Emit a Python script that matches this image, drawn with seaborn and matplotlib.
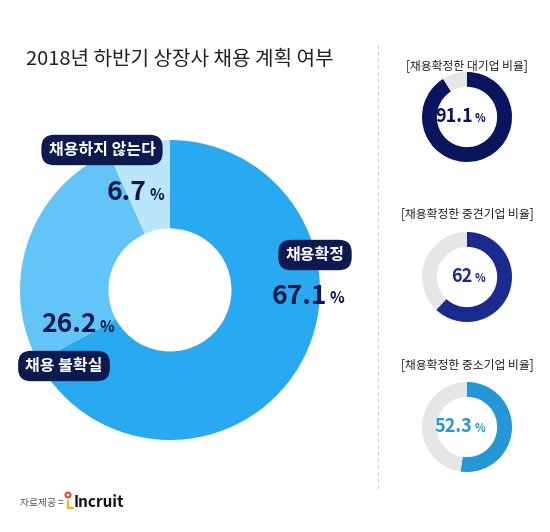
import matplotlib
matplotlib.use("Agg")
import matplotlib.pyplot as plt
import seaborn as sns

sns.set_theme(style="white")
plt.rcParams['font.family'] = ['Noto Sans CJK KR', 'DejaVu Sans']

main_labels = ["채용확정", "채용 불확실", "채용하지 않는다"]
main_values = [67.1, 26.2, 6.7]
main_colors = ["#29a9ef", "#63c4f7", "#bae5fb"]

small_titles = ["[채용확정한 대기업 비율]", "[채용확정한 중견기업 비율]", "[채용확정한 중소기업 비율]"]
small_values = [91.1, 62, 52.3]
small_texts = ["91.1", "62", "52.3"]
small_colors = ["#0a1560", "#1a2a8f", "#2596d6"]

W, H = 550, 532
fig = plt.figure(figsize=(5.5, 5.32), dpi=100)
fig.patch.set_facecolor("white")

def pax(cx, cy, r):
    a = fig.add_axes([(cx - r) / W, (H - cy - r) / H, 2 * r / W, 2 * r / H])
    return a

def fix(a):
    a.set_xlim(-1, 1)
    a.set_ylim(-1, 1)
    a.set_aspect("equal")
    a.axis("off")

fig.text(180 / W, 1 - 60 / H, "2018년 하반기 상장사 채용 계획 여부", ha="center", va="center",
         fontsize=14.5, color="#222222")

ax = pax(170, 290, 150)
ax.pie(main_values, colors=main_colors, startangle=90, counterclock=False,
       wedgeprops=dict(width=0.59, linewidth=0))
fix(ax)

box = dict(boxstyle="round,pad=0.45,rounding_size=0.8", fc="#0d1a4f", ec="none")
def pct(x, y, v):
    fig.text(x / W, 1 - y / H, f"{v}", ha="right", va="center", fontsize=19,
             color="#0d1a4f", fontweight="bold")
    fig.text((x + 3) / W, 1 - (y + 2) / H, "%", ha="left", va="center", fontsize=11,
             color="#0d1a4f", fontweight="bold")

fig.text(315 / W, 1 - 255 / H, main_labels[0], ha="center", va="center", fontsize=11.5,
         color="white", fontweight="bold", bbox=box)
pct(327, 296, main_values[0])
fig.text(64 / W, 1 - 366 / H, main_labels[1], ha="center", va="center", fontsize=11.5,
         color="white", fontweight="bold", bbox=box)
pct(97, 325, main_values[1])
fig.text(102 / W, 1 - 150 / H, main_labels[2], ha="center", va="center", fontsize=11.5,
         color="white", fontweight="bold", bbox=box)
pct(146, 193, main_values[2])

fig.add_artist(plt.Line2D([378 / W, 378 / W], [1 - 45 / H, 1 - 490 / H], color="#cccccc",
                          lw=0.8, ls=(0, (3, 3))))

centers = [117, 277, 427]
title_y = [66, 214, 365]
for i in range(3):
    fig.text(467 / W, 1 - title_y[i] / H, small_titles[i], ha="center", va="center",
             fontsize=8.5, color="#222222")
    a = pax(467, centers[i], 45)
    a.pie([small_values[i], 100 - small_values[i]], colors=[small_colors[i], "#e6e6e6"],
          startangle=90, counterclock=False, wedgeprops=dict(width=0.33, linewidth=0))
    fix(a)
    a.text(0.12, 0, small_texts[i], ha="right", va="center", fontsize=13,
           fontweight="bold", color=small_colors[i])
    a.text(0.16, -0.04, "%", ha="left", va="center", fontsize=8, fontweight="bold",
           color=small_colors[i])

fig.text(20 / W, 1 - 503 / H, "자료제공 =", ha="left", va="center", fontsize=7, color="#555555")
fig.text(74 / W, 1 - 502 / H, "Incruit", ha="left", va="center", fontsize=11,
         fontweight="bold", color="#111111")
fig.add_artist(plt.Circle((68 / W, 1 - 495 / H), 2.5 / W, transform=fig.transFigure,
                          fc="none", ec="#e8452a", lw=1.5))
fig.add_artist(plt.Line2D([68 / W, 68 / W, 73 / W], [1 - 501 / H, 1 - 508 / H, 1 - 508 / H],
                          color="#f3b300", lw=1.5))

fig.savefig("out.png", dpi=100, facecolor="white")
